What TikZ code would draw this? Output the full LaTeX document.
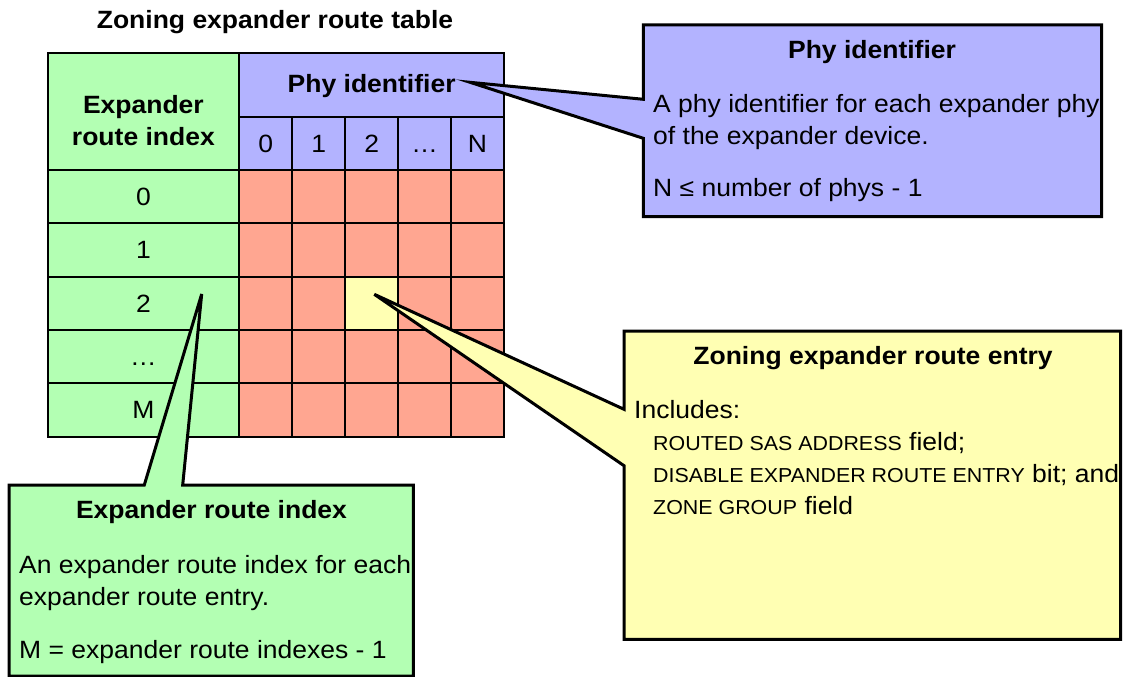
\documentclass[tikz,border=0pt]{standalone}
\usepackage{fontspec}
\setmainfont{Liberation Sans}[FakeStretch=1.06]
\definecolor{cgreen}{RGB}{179,255,179}
\definecolor{cblue}{RGB}{179,179,255}
\definecolor{csalmon}{RGB}{255,166,145}
\definecolor{cyellow}{RGB}{255,255,179}
\newcommand{\capsx}[1]{{\fontsize{20.2}{24}\selectfont #1}}
\tikzset{
  txt/.style={font=\fontsize{25}{30}\selectfont, inner sep=0pt},
  btxt/.style={font=\fontsize{25}{30}\selectfont\bfseries, inner sep=0pt},
  cell/.style={draw, line width=2pt, minimum width=52.94pt, minimum height=53.34pt,
               inner sep=0pt, text height=17.9pt, text depth=0pt,
               font=\fontsize{25}{30}\selectfont},
  callout/.style={draw, line width=3pt, line join=miter},
}
\begin{document}
\begin{tikzpicture}[x=1pt,y=-1pt]
\useasboundingbox (0,0) rectangle (1125,677);

% title
\node[btxt, anchor=base] (title) at (275,28.5) {Zoning expander route table};

% header cells
\node[cell, fill=cgreen, minimum width=191.8pt, minimum height=116.7pt] (hidx) at (143.4,111.65) {};
\node[btxt, anchor=base] (hidx1) at (143.4,113.5) {Expander};
\node[btxt, anchor=base] (hidx2) at (143.4,145.5) {route index};
\node[cell, fill=cblue, minimum width=264.7pt, minimum height=63.4pt] (hphy) at (371.65,85) {};
\node[btxt, anchor=base] (hphyT) at (371.65,92.5) {Phy identifier};
\foreach \t [count=\c from 0] in {0,1,2,…,N} {
  \node[cell, fill=cblue, minimum height=53.3pt] (h\c) at ({239.3+52.94*(\c+0.5)},143.35) {\t};
}
% row index cells
\foreach \t [count=\r from 0] in {0,1,2,…,M} {
  \node[cell, fill=cgreen, minimum width=191.8pt] (r\r) at (143.4,{170+53.34*(\r+0.5)}) {\t};
}
% table body
\foreach \c in {0,...,4} {
  \foreach \r in {0,...,4} {
    \node[cell, fill=csalmon] (c\c\r) at ({239.3+52.94*(\c+0.5)},{170+53.34*(\r+0.5)}) {};
  }
}
\node[cell, fill=cyellow] (entry) at ({239.3+52.94*2.5},{170+53.34*2.5}) {};

% callout tips
\coordinate (tipB) at (470,82.3);
\coordinate (tipY) at (374.3,294.3);
\coordinate (tipG) at (201.7,294);

% blue callout
\path[callout, fill=cblue] (643.3,25) -- (1101.7,25) -- (1101.7,216.7) -- (643.3,216.7)
  -- (643.3,138.3) -- (tipB) -- (643.3,99.3) -- cycle;
\node[btxt, anchor=base] (phyT) at (872,58.5) {Phy identifier};
\node[txt, anchor=base west] (phyL1) at (653,112.5) {A phy identifier for each expander phy};
\node[txt, anchor=base west] (phyL2) at (653,144.5) {of the expander device.};
\node[txt, anchor=base west] (phyL3) at (653,196.5) {N ≤ number of phys - 1};

% yellow callout
\path[callout, fill=cyellow] (624,331) -- (1120.7,331) -- (1120.7,639.3) -- (624,639.3)
  -- (624,465.7) -- (tipY) -- (624,409.3) -- cycle;
\node[btxt, anchor=base] (entT) at (873,364.5) {Zoning expander route entry};
\node[txt, anchor=base west] (entL1) at (634,418.5) {Includes:};
\node[txt, anchor=base west] (entL2) at (653,450.5) {\capsx{ROUTED SAS ADDRESS} field;};
\node[txt, anchor=base west] (entL3) at (653,482.5) {\capsx{DISABLE EXPANDER ROUTE ENTRY} bit; and};
\node[txt, anchor=base west] (entL4) at (653,514.5) {\capsx{ZONE GROUP} field};

% green callout
\path[callout, fill=cgreen] (9,485) -- (144.3,485) -- (tipG) -- (182.7,485) -- (413.3,485)
  -- (413.3,676) -- (9,676) -- cycle;
\node[btxt, anchor=base] (idxT) at (211.5,518.5) {Expander route index};
\node[txt, anchor=base west] (idxL1) at (19,573.5) {An expander route index for each};
\node[txt, anchor=base west] (idxL2) at (19,605.5) {expander route entry.};
\node[txt, anchor=base west] (idxL3) at (19,658.5) {M = expander route indexes - 1};
\end{tikzpicture}
\end{document}
